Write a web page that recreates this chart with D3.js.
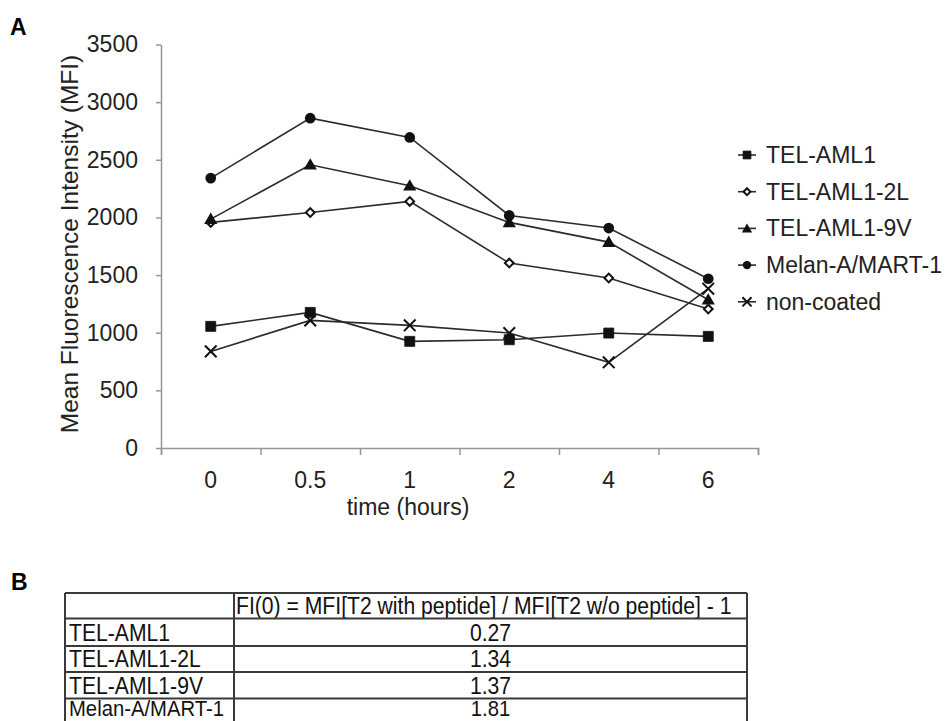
<!DOCTYPE html>
<html>
<head>
<meta charset="utf-8">
<script src="https://cdn.jsdelivr.net/npm/d3@7"></script>
<style>
  body { margin: 0; background: #fff; }
  svg { display: block; font-family: Arial, 'Liberation Sans', Helvetica, sans-serif; }
</style>
</head>
<body>
<svg></svg>
<script>
const w = 948;
const h = 721;

// time points (category axis)
const times = ['0', '0.5', '1', '2', '4', '6'];

// MFI values per peptide
const telAml1 = [1055, 1176, 925, 939, 997, 968];
const telAml12L = [1957, 2043, 2139, 1604, 1474, 1205];
const telAml19V = [1985, 2457, 2275, 1957, 1786, 1286];
const melanA = [2341, 2861, 2694, 2017, 1908, 1468];
const nonCoated = [838, 1107, 1064, 997, 743, 1382];

const seriesNames = ['TEL-AML1', 'TEL-AML1-2L', 'TEL-AML1-9V', 'Melan-A/MART-1', 'non-coated'];
const yTicks = [0, 500, 1000, 1500, 2000, 2500, 3000, 3500];

// table B
const tableHeader = 'FI(0) = MFI[T2 with peptide] / MFI[T2 w/o peptide] - 1';
const tableRows = ['TEL-AML1', 'TEL-AML1-2L', 'TEL-AML1-9V', 'Melan-A/MART-1'];
const fiValues = ['0.27', '1.34', '1.37', '1.81'];

const series = [
    { name: seriesNames[0], values: telAml1, shape: 'square' },
    { name: seriesNames[1], values: telAml12L, shape: 'diamond' },
    { name: seriesNames[2], values: telAml19V, shape: 'triangle' },
    { name: seriesNames[3], values: melanA, shape: 'circle' },
    { name: seriesNames[4], values: nonCoated, shape: 'x' }
];

const svg = d3.select('svg').attr('width', w).attr('height', h);
svg.append('rect').attr('width', w).attr('height', h).attr('fill', '#fff');

const plotLeft = 161, plotRight = 758, plotTop = 44.5, plotBottom = 448;
const axisColor = '#9b948e';
const lineColor = '#2b2b2b';

const xScale = d3.scaleBand().domain(times).range([plotLeft, plotRight]);
const xEdge = d3.scaleLinear().domain([0, times.length]).range([plotLeft, plotRight]);
const yScale = d3.scaleLinear().domain([0, 3500]).range([plotBottom, plotTop]);

// panel letter
svg.append('text').attr('x', 10).attr('y', 35)
    .style('font-size', '23px').style('font-weight', 'bold').text('A');

// y axis
const yAxis = svg.append('g')
    .attr('transform', 'translate(' + plotLeft + ',0)')
    .call(d3.axisLeft(yScale).tickValues(yTicks).tickFormat(d3.format('d'))
        .tickSize(5).tickPadding(18).tickSizeOuter(0));
yAxis.select('.domain').attr('stroke', axisColor).attr('stroke-width', 1.5);
yAxis.selectAll('line').attr('stroke', axisColor).attr('stroke-width', 1.5);
yAxis.selectAll('text').style('font-size', '23px').attr('fill', '#222');

// x axis: boundary ticks + centred labels
const xAxis = svg.append('g')
    .attr('transform', 'translate(0,' + plotBottom + ')')
    .call(d3.axisBottom(xEdge).ticks(times.length).tickSize(7).tickFormat('').tickSizeOuter(7));
xAxis.select('.domain').attr('stroke', axisColor).attr('stroke-width', 1.5);
xAxis.selectAll('line').attr('stroke', axisColor).attr('stroke-width', 1.5);

const xLabels = svg.append('g')
    .attr('transform', 'translate(0,' + plotBottom + ')')
    .call(d3.axisBottom(xScale).tickSize(0).tickPadding(24));
xLabels.select('.domain').remove();
xLabels.selectAll('text').style('font-size', '23px').attr('fill', '#222');

// axis titles
svg.append('text')
    .attr('transform', 'translate(69,244) rotate(-90)')
    .attr('text-anchor', 'middle').attr('dy', '0.35em')
    .style('font-size', '24.5px').attr('fill', '#222')
    .text('Mean Fluorescence Intensity (MFI)');
svg.append('text')
    .attr('x', 408).attr('y', 507).attr('dy', '0.35em')
    .attr('text-anchor', 'middle')
    .style('font-size', '23px').attr('fill', '#222')
    .text('time (hours)');

// marker drawing
const timesSym = d3.symbolTimes || d3.symbolX || d3.symbolCross;
function marker(g, shape, big) {
    const k = big ? 1 : 0.62;
    if (shape === 'square') {
        g.append('path').attr('d', d3.symbol(d3.symbolSquare, 100 * k)())
            .attr('fill', '#111').attr('stroke', '#111').attr('stroke-width', 0.8);
    } else if (shape === 'circle') {
        g.append('path').attr('d', d3.symbol(d3.symbolCircle, 90 * k)())
            .attr('fill', '#111');
    } else if (shape === 'triangle') {
        g.append('path').attr('d', d3.symbol(d3.symbolTriangle, 75 * k)())
            .attr('transform', 'translate(0,1)')
            .attr('fill', '#111');
    } else if (shape === 'diamond') {
        g.append('path').attr('d', d3.symbol(d3.symbolSquare, 38 * k)())
            .attr('transform', 'rotate(45)')
            .attr('fill', '#fff').attr('stroke', '#111').attr('stroke-width', 2);
    } else {
        g.append('path').attr('d', d3.symbol(timesSym, 90 * k)())
            .attr('fill', 'none').attr('stroke', '#111').attr('stroke-width', 2);
    }
}

const line = d3.line()
    .x((d, i) => xScale(times[i]) + xScale.bandwidth() / 2)
    .y((d) => yScale(d));

series.forEach((s) => {
    svg.append('path')
        .datum(s.values)
        .attr('d', line)
        .attr('fill', 'none')
        .attr('stroke', lineColor)
        .attr('stroke-width', 1.6);
});
series.forEach((s) => {
    s.values.forEach((v, i) => {
        const g = svg.append('g')
            .attr('transform', 'translate(' + (xScale(times[i]) + xScale.bandwidth() / 2) + ',' + yScale(v) + ')');
        marker(g, s.shape, true);
    });
});

// legend
const legend = svg.append('g').attr('transform', 'translate(738,155)');
series.forEach((s, i) => {
    const g = legend.append('g').attr('transform', 'translate(0,' + i * 36.7 + ')');
    g.append('line').attr('x1', 0).attr('x2', 18).attr('stroke', lineColor).attr('stroke-width', 1.6);
    const m = g.append('g').attr('transform', 'translate(9,0)');
    marker(m, s.shape, false);
    g.append('text').attr('x', 28).attr('dy', '0.35em')
        .style('font-size', '23px').attr('fill', '#222').text(s.name);
});

// panel B table
svg.append('text').attr('x', 11).attr('y', 590)
    .style('font-size', '23px').style('font-weight', 'bold').text('B');

const colX = [65, 234, 747];
const rowY = [593, 618.5, 646, 672, 698.5, 725];
const tbl = svg.append('g').style('font-family', "'Liberation Sans Narrow', 'Arial Narrow', Arial, sans-serif");
const cellFont = '23.5px';

// condense the table text like a narrow face
function narrow(t) {
    const len = t.node().getComputedTextLength();
    t.attr('textLength', len * 0.9).attr('lengthAdjust', 'spacingAndGlyphs');
}

narrow(tbl.append('text').attr('x', colX[1] + 2).attr('y', (rowY[0] + rowY[1]) / 2).attr('dy', '0.36em')
    .style('font-size', cellFont).attr('fill', '#111').text(tableHeader));
tableRows.forEach((r, i) => {
    const last = i === tableRows.length - 1;
    const cy = (rowY[i + 1] + rowY[i + 2]) / 2 - (last ? 3.5 : 0);
    const fs = last ? '22.5px' : cellFont;
    narrow(tbl.append('text').attr('x', colX[0] + 4).attr('y', cy).attr('dy', '0.36em')
        .style('font-size', fs).attr('fill', '#111').text(r));
    const v = tbl.append('text').attr('y', cy).attr('dy', '0.36em')
        .style('font-size', fs).attr('fill', '#111').text(fiValues[i]);
    const vl = v.node().getComputedTextLength() * 0.9;
    v.attr('x', (colX[1] + colX[2]) / 2 - vl / 2).attr('textLength', vl).attr('lengthAdjust', 'spacingAndGlyphs');
});
rowY.forEach((y) => {
    tbl.append('line').attr('x1', colX[0]).attr('x2', colX[2]).attr('y1', y).attr('y2', y)
        .attr('stroke', '#3a3a3a').attr('stroke-width', 2);
});
colX.forEach((x) => {
    tbl.append('line').attr('x1', x).attr('x2', x).attr('y1', rowY[0]).attr('y2', rowY[rowY.length - 1])
        .attr('stroke', '#3a3a3a').attr('stroke-width', 2);
});
</script>
</body>
</html>
